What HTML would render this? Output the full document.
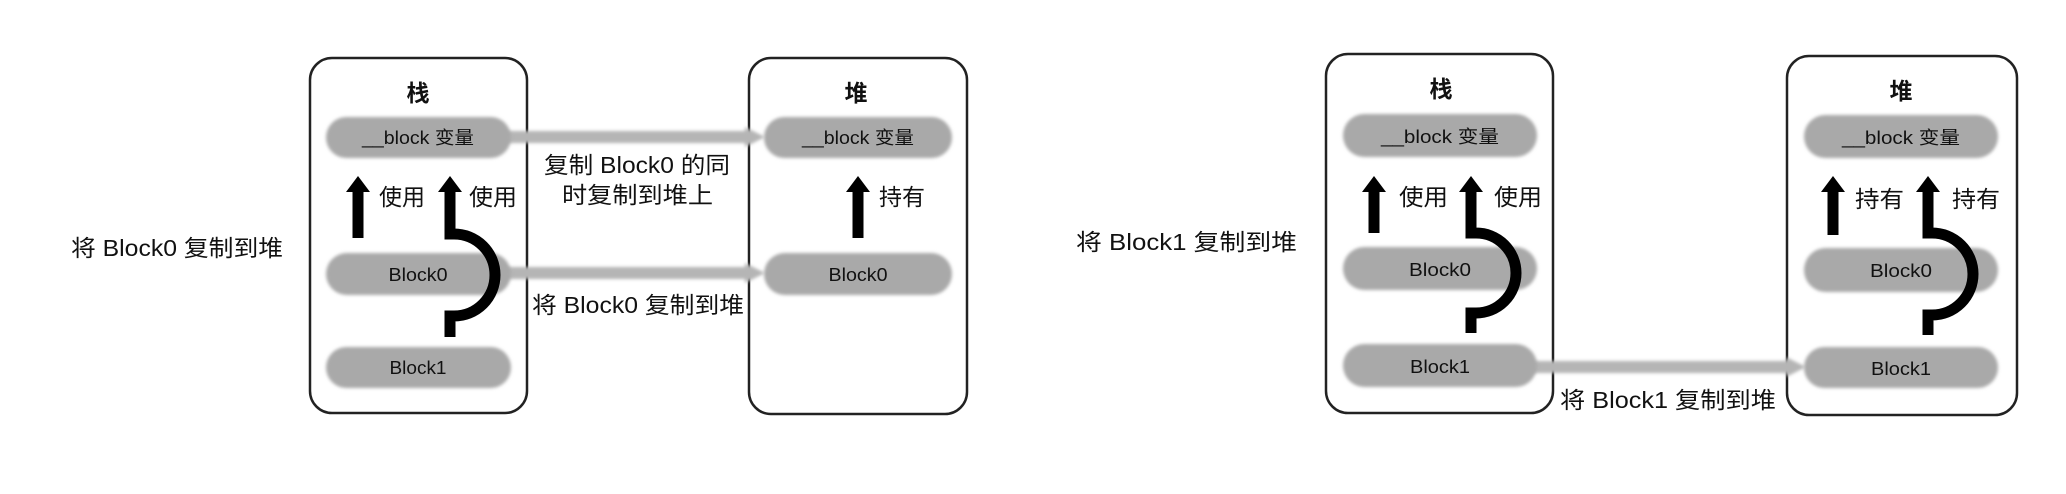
<!DOCTYPE html>
<html><head><meta charset="utf-8"><style>
html,body{margin:0;padding:0;background:#fff;}
svg{display:block}
text{font-family:"Liberation Sans","Noto Sans CJK SC",sans-serif;fill:#111;}
</style></head><body>
<svg width="2066" height="494" viewBox="0 0 2066 494" xmlns="http://www.w3.org/2000/svg">
<defs>
<filter id="b" x="-10%" y="-30%" width="120%" height="160%"><feGaussianBlur stdDeviation="1.5"/></filter>
</defs>
<g fill="none" stroke="#222" stroke-width="2.5">
<rect x="310" y="58" width="217" height="355" rx="22"/>
<rect x="749" y="58" width="218" height="356" rx="22"/>
<rect x="1326" y="54" width="227" height="359" rx="22"/>
<rect x="1787" y="56" width="230" height="359" rx="22"/>
</g>
<g fill="#b5b5b5" filter="url(#b)">
<rect x="505" y="131" width="244" height="12"/><polygon points="745,127 765,137 745,147"/>
<rect x="505" y="267" width="244" height="12"/><polygon points="745,263 765,273 745,283"/>
<rect x="1530" y="361" width="260" height="12"/><polygon points="1786,357 1806,367 1786,377"/>
</g>
<g fill="#a9a9a9" filter="url(#b)">
<rect x="326" y="117" width="185" height="41" rx="20.5"/>
<rect x="326" y="253" width="185" height="42" rx="21"/>
<rect x="326" y="347" width="185" height="41" rx="20.5"/>
<rect x="764" y="117" width="188" height="41" rx="20.5"/>
<rect x="764" y="253" width="188" height="42" rx="21"/>
<rect x="1343" y="114" width="194" height="43" rx="21.5"/>
<rect x="1343" y="247" width="194" height="43" rx="21.5"/>
<rect x="1343" y="344" width="194" height="43" rx="21.5"/>
<rect x="1804" y="115" width="194" height="43" rx="21.5"/>
<rect x="1804" y="248" width="194" height="44" rx="22"/>
<rect x="1804" y="347" width="194" height="41" rx="20.5"/>
</g>
<g stroke="#000" stroke-width="11" fill="none">
<path d="M358,238 V188"/>
<path d="M450,337 V316 H454 A41,41 0 0 0 454,234 H450 V188"/>
<path d="M858,238 V188"/>
<path d="M1374,233 V188"/>
<path d="M1471,333 V313 H1476 A40,40 0 0 0 1476,233 H1471 V188"/>
<path d="M1833,235 V188"/>
<path d="M1928,335 V315 H1932 A41,41 0 0 0 1932,233 H1928 V188"/>
</g>
<g fill="#000">
<polygon points="358,176 370,192 346,192"/>
<polygon points="450,176 462,192 438,192"/>
<polygon points="858,176 870,192 846,192"/>
<polygon points="1374,176 1386,192 1362,192"/>
<polygon points="1471,176 1483,192 1459,192"/>
<polygon points="1833,176 1845,192 1821,192"/>
<polygon points="1928,176 1940,192 1916,192"/>
</g>
<g font-weight="bold" font-size="23" text-anchor="middle">
<text x="418" y="101">栈</text>
<text x="856" y="101">堆</text>
<text x="1441" y="97">栈</text>
<text x="1901" y="99">堆</text>
</g>
<g font-size="18" text-anchor="middle">
<text x="418" y="144" textLength="112" lengthAdjust="spacingAndGlyphs">__block 变量</text>
<text x="418" y="281" textLength="59" lengthAdjust="spacingAndGlyphs">Block0</text>
<text x="418" y="374" textLength="57" lengthAdjust="spacingAndGlyphs">Block1</text>
<text x="858" y="144" textLength="112" lengthAdjust="spacingAndGlyphs">__block 变量</text>
<text x="858" y="281" textLength="59" lengthAdjust="spacingAndGlyphs">Block0</text>
<text x="1440" y="143" textLength="118" lengthAdjust="spacingAndGlyphs">__block 变量</text>
<text x="1440" y="276" textLength="62" lengthAdjust="spacingAndGlyphs">Block0</text>
<text x="1440" y="373" textLength="60" lengthAdjust="spacingAndGlyphs">Block1</text>
<text x="1901" y="144" textLength="118" lengthAdjust="spacingAndGlyphs">__block 变量</text>
<text x="1901" y="277" textLength="62" lengthAdjust="spacingAndGlyphs">Block0</text>
<text x="1901" y="375" textLength="60" lengthAdjust="spacingAndGlyphs">Block1</text>
</g>
<g font-size="23">
<text x="379" y="205" textLength="46" lengthAdjust="spacingAndGlyphs">使用</text>
<text x="469" y="205" textLength="48" lengthAdjust="spacingAndGlyphs">使用</text>
<text x="879" y="205" textLength="46" lengthAdjust="spacingAndGlyphs">持有</text>
<text x="1399" y="205" textLength="49" lengthAdjust="spacingAndGlyphs">使用</text>
<text x="1494" y="205" textLength="48" lengthAdjust="spacingAndGlyphs">使用</text>
<text x="1855" y="207" textLength="49" lengthAdjust="spacingAndGlyphs">持有</text>
<text x="1952" y="207" textLength="48" lengthAdjust="spacingAndGlyphs">持有</text>
<text x="544" y="173" textLength="186" lengthAdjust="spacingAndGlyphs">复制 Block0 的同</text>
<text x="562" y="203" textLength="151" lengthAdjust="spacingAndGlyphs">时复制到堆上</text>
<text x="532" y="313" textLength="212" lengthAdjust="spacingAndGlyphs">将 Block0 复制到堆</text>
<text x="71" y="256" textLength="212" lengthAdjust="spacingAndGlyphs">将 Block0 复制到堆</text>
<text x="1076" y="250" textLength="221" lengthAdjust="spacingAndGlyphs">将 Block1 复制到堆</text>
<text x="1560" y="408" textLength="216" lengthAdjust="spacingAndGlyphs">将 Block1 复制到堆</text>
</g>
</svg>
</body></html>
